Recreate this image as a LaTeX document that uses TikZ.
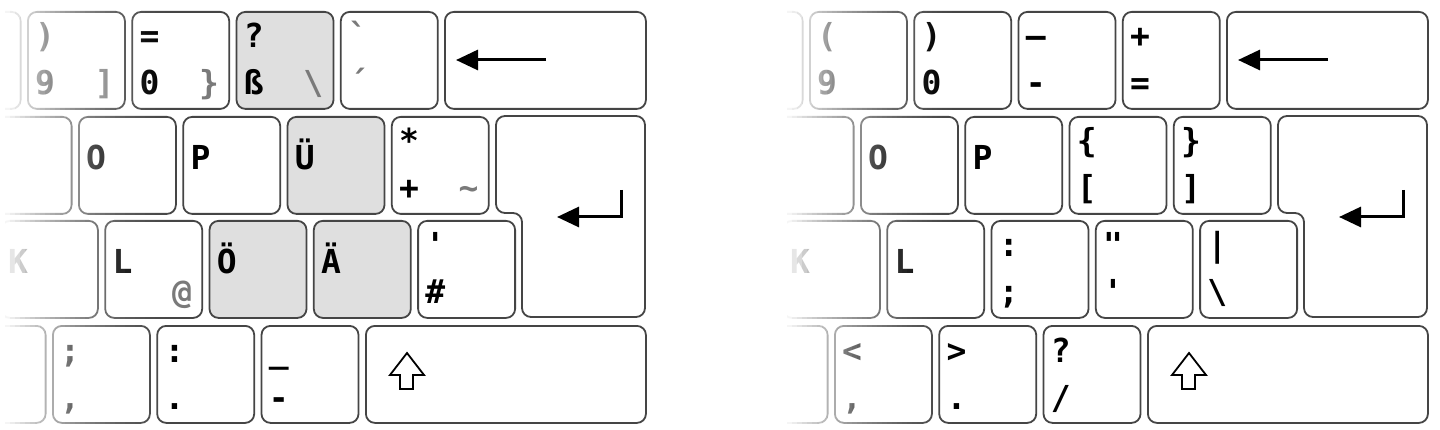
\documentclass[tikz,border=0pt]{standalone}
\usepackage{fontspec}
\newfontfamily\keyfont{DejaVu Sans Mono}
\usetikzlibrary{arrows.meta}
\definecolor{keyline}{gray}{0.27}
\definecolor{keygray}{gray}{0.875}
\definecolor{altgray}{gray}{0.48}

\begin{document}
\begin{tikzpicture}[x=1pt, y=-1pt,
	keycap/.style={draw=keyline, line width=1.8pt, rounded corners=9pt, fill=white,
		minimum width=97pt, minimum height=97pt, anchor=north west, inner sep=0pt},
	lab/.style={font=\keyfont\bfseries\fontsize{33}{33}\selectfont, inner sep=0pt, anchor=base west},
	toplab/.style={lab, shift={(8,37)}},
	botlab/.style={lab, shift={(8,84)}},
	midlab/.style={lab, shift={(8,54)}},
	altlab/.style={lab, anchor=base east, text=altgray, shift={(-11,84)}},
	glyph/.style={line width=3pt, -{Triangle[length=22pt, width=20pt]}}]
	\path[use as bounding box, fill=white] (0,0) rectangle (1440,430);
	% keys, the same rows for both layouts
	\foreach \kb/\ox/\hi in {de/0/keygray, us/782/white} {
		\begin{scope}[shift={(\ox,0)}]
			\clip (0,0) rectangle (660,430);
			\foreach \i/\f in {0/white,1/white,2/white,3/\hi,4/white}
				\node[keycap, fill=\f] (\kb-a\i) at ({-77.3+104.3*\i},11) {};
			\foreach \i/\f in {0/white,1/white,2/white,3/\hi,4/white}
				\node[keycap, fill=\f] (\kb-b\i) at ({-26.3+104.3*\i},116) {};
			\foreach \i/\f in {0/white,1/white,2/\hi,3/\hi,4/white}
				\node[keycap, fill=\f] (\kb-c\i) at ({104.3*\i},220) {};
			\foreach \i in {0,...,3}
				\node[keycap] (\kb-d\i) at ({-52.3+104.3*\i},325) {};
			\node[keycap, minimum width=201pt] (\kb-bs) at (444,11) {};
			\node[keycap, minimum width=280pt] (\kb-sh) at (365,325) {};
			\draw[keycap] (496,116) -- (645,116) -- (645,317) -- (522,317) -- (522,213) -- (496,213) -- cycle;
			% backspace, return, shift
			\draw[glyph] (546,60) -- (456,60);
			\draw[glyph] (621,190) -- (621,217) -- (557,217);
			\draw[line width=1.8pt] (407,353) -- (424,375) -- (413,375) -- (413,389) -- (400,389) -- (400,375) -- (390,375) -- cycle;
		\end{scope}
	}
	% German labels
	\foreach \k/\t/\b in {a1/)/9, a2/=/0, a3/?/ß, b4/*/+, c4/'/\#, d1/;/{,}, d2/:/., d3/\_/-} {
		\node[toplab] (de-\k-t) at (de-\k.north west) {\t};
		\node[botlab] (de-\k-b) at (de-\k.north west) {\b};
	}
	\node[toplab, text=altgray] (de-a4-t) at (de-a4.north west) {`};
	\node[botlab, text=altgray] (de-a4-b) at (de-a4.north west) {´};
	\foreach \k/\t in {b0/I, b1/O, b2/P, b3/Ü, c0/K, c1/L, c2/Ö, c3/Ä}
		\node[midlab] (de-\k-m) at (de-\k.north west) {\t};
	\foreach \k/\t in {a1/], a2/\}, a3/\textbackslash, b4/\textasciitilde, c1/@}
		\node[altlab] (de-\k-r) at (de-\k.north east) {\t};
	% US labels
	\begin{scope}
		\clip (782,0) rectangle (1440,430);
		\foreach \k/\t/\b in {a1/(/9, a2/)/0, a3/–/-, a4/+/=, b3/\{/[, b4/\}/], c2/:/;, c3/"/', c4/|/\textbackslash, d1/</{,}, d2/>/., d3/?/{/}} {
			\node[toplab] (us-\k-t) at (us-\k.north west) {\t};
			\node[botlab] (us-\k-b) at (us-\k.north west) {\b};
		}
		\foreach \k/\t in {b0/I, b1/O, b2/P, c0/K, c1/L}
			\node[midlab] (us-\k-m) at (us-\k.north west) {\t};
	\end{scope}
	% fade out to the left
	\foreach \ox in {0,782}
		\foreach \i/\op in {0/1,1/.95,2/.9,3/.85,4/.8,5/.754,6/.713,7/.672,8/.633,9/.594,
				10/.556,11/.52,12/.484,13/.45,14/.416,15/.384,16/.353,17/.322,18/.293,19/.265,
				20/.239,21/.213,22/.189,23/.166,24/.144,25/.123,26/.104,27/.086,28/.069,29/.055,
				30/.041,31/.029,32/.019,33/.011,34/.005}
			\fill[white, fill opacity=\op] ({\ox+5*\i},0) rectangle ++(5,430);
\end{tikzpicture}
\end{document}
